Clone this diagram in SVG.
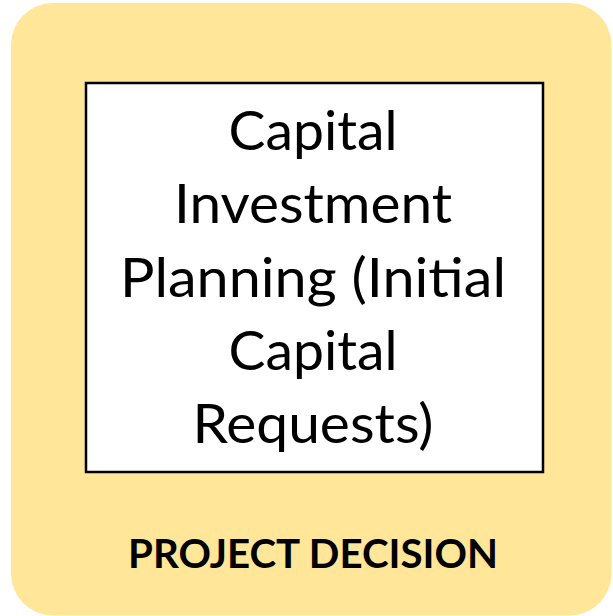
<svg xmlns="http://www.w3.org/2000/svg" width="613" height="616" viewBox="0 0 613 616">
<style>
.main{font-family:Lato,"Open Sans","Liberation Sans",sans-serif;font-size:54px;fill:#000;text-anchor:middle}
.lbl{font-family:Lato,"Open Sans","Liberation Sans",sans-serif;font-size:41px;font-weight:bold;fill:#000;text-anchor:middle}
</style>
<g id="project-decision">
<rect x="11" y="3" width="600.5" height="612.5" rx="42" ry="42" fill="#FFE699"/>
<text class="lbl" x="313" y="568" textLength="370" lengthAdjust="spacingAndGlyphs">PROJECT DECISION</text>
</g>
<g id="capital-investment-planning">
<rect x="86" y="83" width="457" height="389" fill="#FFFFFF" stroke="#000" stroke-width="2.5"/>
<text class="main" x="313" y="150" textLength="169" lengthAdjust="spacingAndGlyphs">Capital</text>
<text class="main" x="313" y="223" textLength="278" lengthAdjust="spacingAndGlyphs">Investment</text>
<text class="main" x="313" y="297" textLength="386" lengthAdjust="spacingAndGlyphs">Planning (Initial</text>
<text class="main" x="313" y="370" textLength="169" lengthAdjust="spacingAndGlyphs">Capital</text>
<text class="main" x="313" y="443" textLength="241" lengthAdjust="spacingAndGlyphs">Requests)</text>
</g>
<g id="connectors"/>
</svg>
